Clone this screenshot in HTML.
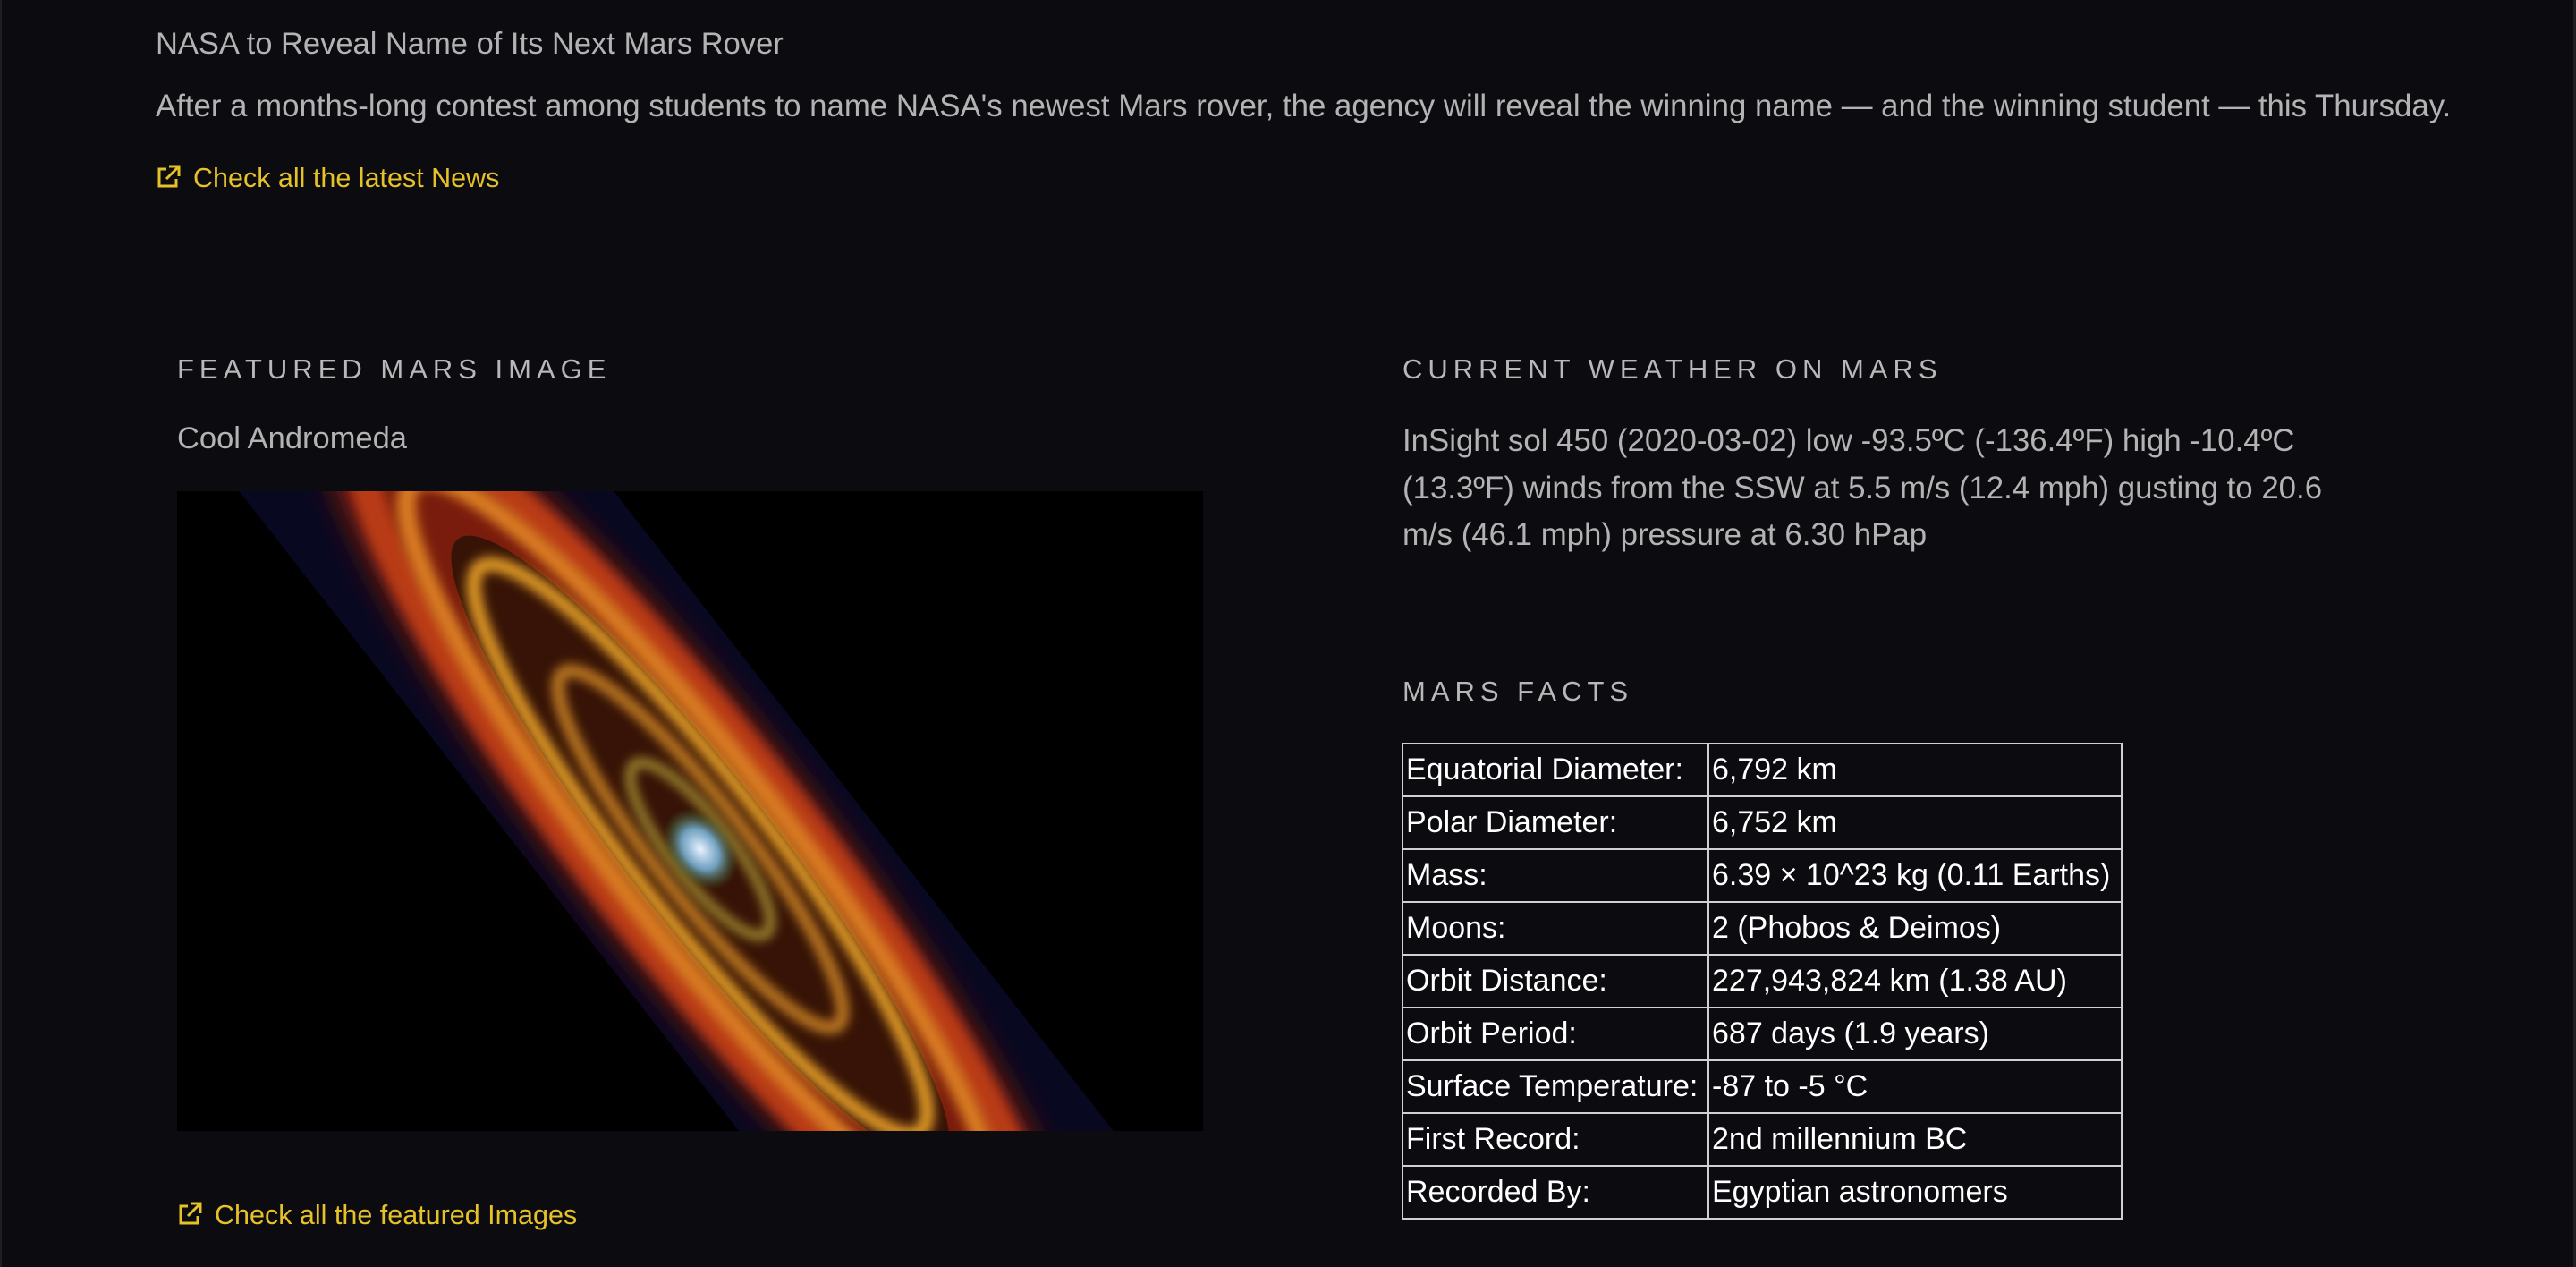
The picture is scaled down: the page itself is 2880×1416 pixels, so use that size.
<!DOCTYPE html>
<html><head><meta charset="utf-8">
<style>
html,body{margin:0;padding:0;width:2880px;height:1416px;overflow:hidden;background:#0b0b10;font-family:"Liberation Sans",Arial,sans-serif;}
.abs{position:absolute;white-space:nowrap;}
.t{color:#b3b3b3;}
.h{color:#b8b8b8;font-size:31px;letter-spacing:6px;}
.link{color:#e6c229;font-size:30.5px;}
.icon{display:inline-block;vertical-align:-3px;margin-right:14px;}
table{border-collapse:collapse;color:#fff;font-size:34px;}
td{border:2px solid #d0d0d0;height:57px;padding:0 3px;white-space:nowrap;}
</style></head>
<body>
<div class="abs" style="left:0;top:0;width:2px;height:1416px;background:#1e1e24"></div>
<div class="abs" style="right:0;top:0;width:3px;height:1416px;background:#1e1e24"></div>

<div class="abs t" style="left:174px;top:30px;font-size:34.5px">NASA to Reveal Name of Its Next Mars Rover</div>
<div class="abs t" style="left:174px;top:99px;font-size:34.8px">After a months-long contest among students to name NASA's newest Mars rover, the agency will reveal the winning name — and the winning student — this Thursday.</div>
<div class="abs link" style="left:174px;top:182px"><svg class="icon" width="28" height="28" viewBox="0 0 28 28"><path d="M12 5H4v19h19v-8" fill="none" stroke="#e6c229" stroke-width="3"/><path d="M15 2h11v11M26 2L12 16" fill="none" stroke="#e6c229" stroke-width="3"/></svg>Check all the latest News</div>

<div class="abs h" style="left:198px;top:395px">FEATURED MARS IMAGE</div>
<div class="abs t" style="left:198px;top:471px;font-size:34.5px">Cool Andromeda</div>

<svg class="abs" style="left:198px;top:549px" width="1147" height="715" viewBox="0 0 1147 715">
<defs>
<filter id="b1" x="-50%" y="-50%" width="200%" height="200%"><feGaussianBlur stdDeviation="16"/></filter>
<filter id="b2" x="-50%" y="-50%" width="200%" height="200%"><feGaussianBlur stdDeviation="6"/></filter>
<radialGradient id="core"><stop offset="0" stop-color="#e8f2ff"/><stop offset="0.5" stop-color="#6fa0c0"/><stop offset="1" stop-color="#40702a" stop-opacity="0"/></radialGradient>
</defs>
<rect width="1147" height="715" fill="#000"/>
<g transform="rotate(52 585 400)">
<rect x="-400" y="230" width="2000" height="330" fill="#080820"/>
<ellipse cx="585" cy="400" rx="680" ry="135" fill="#7a1a10" filter="url(#b1)"/>
<ellipse cx="585" cy="400" rx="600" ry="112" fill="none" stroke="#b83a18" stroke-width="34" filter="url(#b2)"/>
<ellipse cx="585" cy="400" rx="520" ry="96" fill="none" stroke="#d87a20" stroke-width="22" filter="url(#b2)"/>
<ellipse cx="585" cy="400" rx="440" ry="82" fill="#2a1206" opacity="0.85"/>
<ellipse cx="585" cy="400" rx="400" ry="76" fill="none" stroke="#e09a28" stroke-width="16" filter="url(#b2)"/>
<ellipse cx="585" cy="400" rx="250" ry="52" fill="none" stroke="#c07a20" stroke-width="14" filter="url(#b2)"/>
<ellipse cx="585" cy="400" rx="120" ry="34" fill="none" stroke="#a89030" stroke-width="10" filter="url(#b2)"/>
<ellipse cx="585" cy="400" rx="50" ry="36" fill="url(#core)"/>
</g>
</svg>

<div class="abs link" style="left:198px;top:1341px"><svg class="icon" width="28" height="28" viewBox="0 0 28 28"><path d="M12 5H4v19h19v-8" fill="none" stroke="#e6c229" stroke-width="3"/><path d="M15 2h11v11M26 2L12 16" fill="none" stroke="#e6c229" stroke-width="3"/></svg>Check all the featured Images</div>

<div class="abs h" style="left:1568px;top:395px">CURRENT WEATHER ON MARS</div>
<div class="abs t" style="left:1568px;top:467px;font-size:34.8px;line-height:52.6px">InSight sol 450 (2020-03-02) low -93.5ºC (-136.4ºF) high -10.4ºC<br>(13.3ºF) winds from the SSW at 5.5 m/s (12.4 mph) gusting to 20.6<br>m/s (46.1 mph) pressure at 6.30 hPap</div>

<div class="abs h" style="left:1568px;top:755px">MARS FACTS</div>
<table class="abs" style="left:1567px;top:830px;width:806px">
<colgroup><col style="width:342px"><col></colgroup>
<tr><td>Equatorial Diameter:</td><td>6,792 km</td></tr>
<tr><td>Polar Diameter:</td><td>6,752 km</td></tr>
<tr><td>Mass:</td><td>6.39 × 10^23 kg (0.11 Earths)</td></tr>
<tr><td>Moons:</td><td>2 (Phobos &amp; Deimos)</td></tr>
<tr><td>Orbit Distance:</td><td>227,943,824 km (1.38 AU)</td></tr>
<tr><td>Orbit Period:</td><td>687 days (1.9 years)</td></tr>
<tr><td>Surface Temperature:</td><td>-87 to -5 °C</td></tr>
<tr><td>First Record:</td><td>2nd millennium BC</td></tr>
<tr><td>Recorded By:</td><td>Egyptian astronomers</td></tr>
</table>
</body></html>
